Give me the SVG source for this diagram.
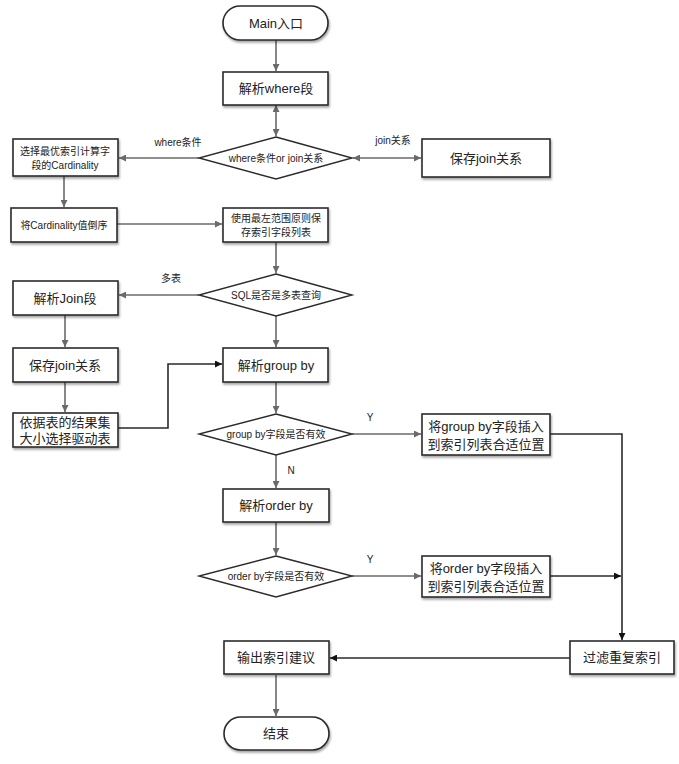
<svg xmlns="http://www.w3.org/2000/svg" width="679" height="764" viewBox="0 0 679 764">
<defs>
<style>
.box{fill:#fff;stroke:#2a2a2a;stroke-width:1.6;filter:url(#sh)}
.dia{fill:#fff;stroke:#2a2a2a;stroke-width:1.4}
.t{font-family:"Liberation Sans","Noto Sans CJK SC",sans-serif;fill:#222;text-anchor:middle;dominant-baseline:central}
.t13{font-size:13px}
.t11{font-size:11px}
.t10{font-size:10px}
.g{fill:none;stroke:#6a6a6a;stroke-width:1.6}
.k{fill:none;stroke:#2a2a2a;stroke-width:1.6}
</style>
<filter id="sh" x="-10%" y="-10%" width="130%" height="140%">
<feDropShadow dx="1" dy="2" stdDeviation="1.2" flood-color="#000" flood-opacity="0.35"/>
</filter>
<marker id="ag" viewBox="0 0 10 10" refX="10" refY="5" markerWidth="7" markerHeight="7" orient="auto-start-reverse" markerUnits="userSpaceOnUse">
<path d="M0,0 L10,5 L0,10 z" fill="#6a6a6a"/>
</marker>
<marker id="ak" viewBox="0 0 10 10" refX="10" refY="5" markerWidth="7" markerHeight="7" orient="auto-start-reverse" markerUnits="userSpaceOnUse">
<path d="M0,0 L10,5 L0,10 z" fill="#111"/>
</marker>
</defs>
<rect width="679" height="764" fill="#fff"/>

<g id="connectors">
<path class="g" d="M276,40 V71" marker-end="url(#ag)"/>
<path class="g" d="M276,105 V136" marker-start="url(#ag)" marker-end="url(#ag)"/>
<path class="g" d="M199,158 H119" marker-end="url(#ag)"/>
<path class="g" d="M353,158 H421" marker-start="url(#ag)" marker-end="url(#ag)"/>
<path class="g" d="M64,176 V207" marker-end="url(#ag)"/>
<path class="g" d="M117,224 H222" marker-end="url(#ag)"/>
<path class="g" d="M276,242 V273" marker-end="url(#ag)"/>
<path class="g" d="M199,295 H119" marker-end="url(#ag)"/>
<path class="g" d="M65,315 V347" marker-end="url(#ag)"/>
<path class="g" d="M276,316 V347" marker-end="url(#ag)"/>
<path class="g" d="M65,382 V412" marker-end="url(#ag)"/>
<path class="k" d="M118,428 H168 V364 H222" marker-end="url(#ak)"/>
<path class="g" d="M276,382 V413" marker-end="url(#ag)"/>
<path class="g" d="M352,434 H421" marker-end="url(#ag)"/>
<path class="k" d="M550,434 H622 V640" marker-end="url(#ak)"/>
<path class="g" d="M276,455 V488" marker-end="url(#ag)"/>
<path class="g" d="M276,522 V555" marker-end="url(#ag)"/>
<path class="g" d="M352,576 H421" marker-end="url(#ag)"/>
<path class="k" d="M550,576 H621" marker-end="url(#ak)"/>
<path class="k" d="M570,658 H330" marker-end="url(#ak)"/>
<path class="g" d="M276,675 V716" marker-end="url(#ag)"/>
<text class="t t10" x="178" y="142">where条件</text>
<text class="t t10" x="393" y="140">join关系</text>
<text class="t t10" x="171" y="278">多表</text>
<text class="t t10" x="370" y="417">Y</text>
<text class="t t10" x="291" y="470">N</text>
<text class="t t10" x="370" y="559">Y</text>
</g>

<g id="main"><rect class="box" x="223" y="6" width="105" height="34" rx="17"/><text class="t t13" x="276" y="23">Main入口</text></g>
<g id="parse-where"><rect class="box" x="223" y="72" width="105" height="33"/><text class="t t13" x="276" y="88.5">解析where段</text></g>
<g id="where-or-join"><polygon class="dia" points="276,137 352,158 276,179 199,158"/><text class="t t10" x="276" y="158">where条件or join关系</text></g>
<g id="choose-index"><rect class="box" x="13" y="139" width="105" height="37"/><text class="t t10" x="65" y="151">选择最优索引计算字</text><text class="t t10" x="65" y="165">段的Cardinality</text></g>
<g id="save-join-1"><rect class="box" x="422" y="139" width="128" height="38"/><text class="t t13" x="486" y="158">保存join关系</text></g>
<g id="sort-cardinality"><rect class="box" x="11" y="208" width="106" height="34"/><text class="t t10" x="64" y="225">将Cardinality值倒序</text></g>
<g id="leftmost"><rect class="box" x="223" y="208" width="105" height="34"/><text class="t t10" x="276" y="218">使用最左范围原则保</text><text class="t t10" x="276" y="232">存索引字段列表</text></g>
<g id="multi-table"><polygon class="dia" points="276,274 352,295 276,316 199,295"/><text class="t t10" x="276" y="295">SQL是否是多表查询</text></g>
<g id="parse-join"><rect class="box" x="13" y="281" width="105" height="34"/><text class="t t13" x="65" y="298">解析Join段</text></g>
<g id="save-join-2"><rect class="box" x="13" y="348" width="105" height="34"/><text class="t t13" x="65" y="365">保存join关系</text></g>
<g id="driver-table"><rect class="box" x="13" y="413" width="105" height="34"/><text class="t t13" x="65" y="422">依据表的结果集</text><text class="t t13" x="65" y="438">大小选择驱动表</text></g>
<g id="parse-group"><rect class="box" x="223" y="348" width="105" height="34"/><text class="t t13" x="276" y="365">解析group by</text></g>
<g id="group-valid"><polygon class="dia" points="276,414 352,434 276,455 199,434"/><text class="t t10" x="276" y="434">group by字段是否有效</text></g>
<g id="insert-group"><rect class="box" x="422" y="414" width="128" height="41"/><text class="t t13" x="486" y="426">将group by字段插入</text><text class="t t13" x="486" y="444">到索引列表合适位置</text></g>
<g id="parse-order"><rect class="box" x="223" y="489" width="106" height="33"/><text class="t t13" x="276" y="505.5">解析order by</text></g>
<g id="order-valid"><polygon class="dia" points="276,556 352,576 276,597 199,576"/><text class="t t10" x="276" y="576">order by字段是否有效</text></g>
<g id="insert-order"><rect class="box" x="422" y="556" width="128" height="41"/><text class="t t13" x="486" y="568">将order by字段插入</text><text class="t t13" x="486" y="586">到索引列表合适位置</text></g>
<g id="dedupe"><rect class="box" x="570" y="641" width="104" height="33"/><text class="t t13" x="622" y="657.5">过滤重复索引</text></g>
<g id="output"><rect class="box" x="224" y="641" width="105" height="33"/><text class="t t13" x="276" y="657.5">输出索引建议</text></g>
<g id="end"><rect class="box" x="224" y="717" width="105" height="33" rx="16.5"/><text class="t t13" x="276" y="733.5">结束</text></g>
</svg>
